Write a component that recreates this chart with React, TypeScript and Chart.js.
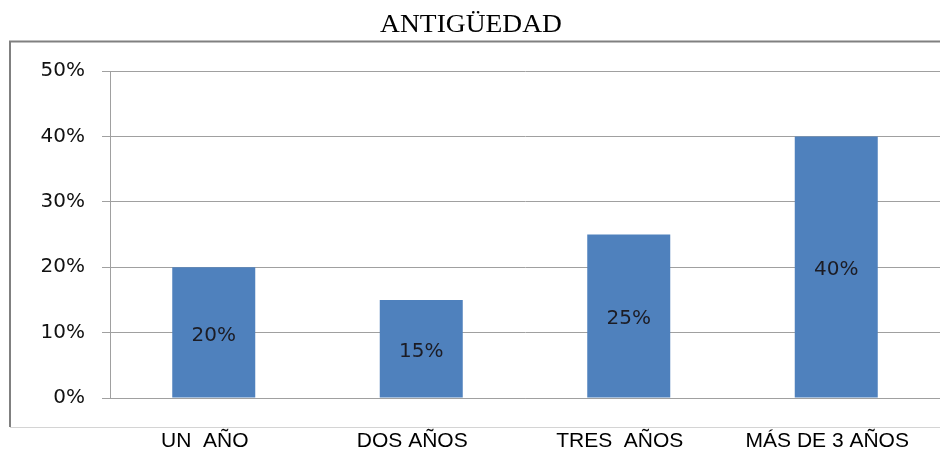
import React, { useEffect, useRef } from "react";
import { Chart, registerables } from "chart.js";

Chart.register(...registerables);

const TITLE = "ANTIGÜEDAD";
const categories = ["UN  AÑO", "DOS AÑOS", "TRES  AÑOS", "MÁS DE 3 AÑOS"];
const values = [20, 15, 25, 40];
const yTicks = [0, 10, 20, 30, 40, 50];

const framePlugin = {
  id: "frame",
  beforeDraw(chart: any) {
    const ctx = chart.ctx;
    ctx.save();
    ctx.strokeStyle = "#808080";
    ctx.lineWidth = 2;
    ctx.beginPath();
    ctx.moveTo(10, 427);
    ctx.lineTo(10, 41.5);
    ctx.lineTo(940, 41.5);
    ctx.stroke();
    ctx.strokeStyle = "#d4d4d4";
    ctx.lineWidth = 1;
    ctx.beginPath();
    ctx.moveTo(10, 427.5);
    ctx.lineTo(940, 427.5);
    ctx.stroke();
    // title (slightly wide, as in the reference)
    ctx.fillStyle = "#000";
    ctx.font = "25px 'Liberation Serif', 'Times New Roman', serif";
    ctx.textAlign = "center";
    ctx.textBaseline = "alphabetic";
    ctx.translate(471, 32);
    ctx.scale(1.1, 1);
    ctx.fillText(TITLE, 0, 0);
    ctx.restore();
  },
  afterDatasetsDraw(chart: any) {
    const ctx = chart.ctx;
    const meta = chart.getDatasetMeta(0);
    ctx.save();
    ctx.fillStyle = "#1c1c24";
    ctx.font = "20px 'DejaVu Sans', sans-serif";
    ctx.textAlign = "center";
    ctx.textBaseline = "middle";
    meta.data.forEach((bar: any, i: number) => {
      const y = (bar.y + bar.base) / 2;
      ctx.fillText(values[i] + "%", bar.x, y + 3);
    });
    // category labels, drawn a little left of the bar centre like the reference
    const xs = chart.scales.x;
    ctx.fillStyle = "#000";
    ctx.font = "21px 'Liberation Sans', Arial, sans-serif";
    ctx.textBaseline = "middle";
    categories.forEach((c, i) => {
      ctx.fillText(c, xs.getPixelForValue(i) - 9, 441);
    });
    ctx.restore();
  },
};

export default function App() {
  const ref = useRef<HTMLCanvasElement | null>(null);
  useEffect(() => {
    if (!ref.current) return;
    const chart = new Chart(ref.current, {
      type: "bar",
      data: {
        labels: categories,
        datasets: [
          {
            data: values,
            backgroundColor: "#4f81bd",
            borderWidth: 0,
            categoryPercentage: 0.8,
            barPercentage: 0.5,
          },
        ],
      },
      options: {
        animation: false,
        responsive: false,
        maintainAspectRatio: false,
        layout: { padding: { left: 0, top: 71, right: 0, bottom: 0 } },
        plugins: {
          legend: { display: false },
          title: { display: false },
          tooltip: { enabled: false },
        },
        scales: {
          x: {
            grid: { display: false, drawTicks: false },
            border: { display: true, color: "#a0a0a0", width: 1 },
            ticks: { display: false },
            afterFit: (s: any) => {
              s.height = 51;
              s.paddingLeft = 0;
              s.paddingRight = 0;
            },
          },
          y: {
            min: 0,
            max: 50,
            afterBuildTicks: (s: any) => {
              s.ticks = yTicks.map((v) => ({ value: v }));
            },
            grid: { color: "#a0a0a0", lineWidth: 1, tickLength: 8, drawTicks: true },
            border: { display: true, color: "#a0a0a0", width: 1 },
            ticks: {
              color: "#111",
              padding: 17,
              font: { family: "'DejaVu Sans', sans-serif", size: 20 },
              callback: (v: any) => v + "%",
            },
            afterFit: (s: any) => {
              s.width = 110;
            },
          },
        },
      },
      plugins: [framePlugin],
    });
    return () => chart.destroy();
  }, []);
  return (
    <div style={{ position: "fixed", left: 0, top: 0, width: 940, height: 449, background: "#fff" }}>
      <canvas ref={ref} width={940} height={449} style={{ display: "block" }} />
    </div>
  );
}
